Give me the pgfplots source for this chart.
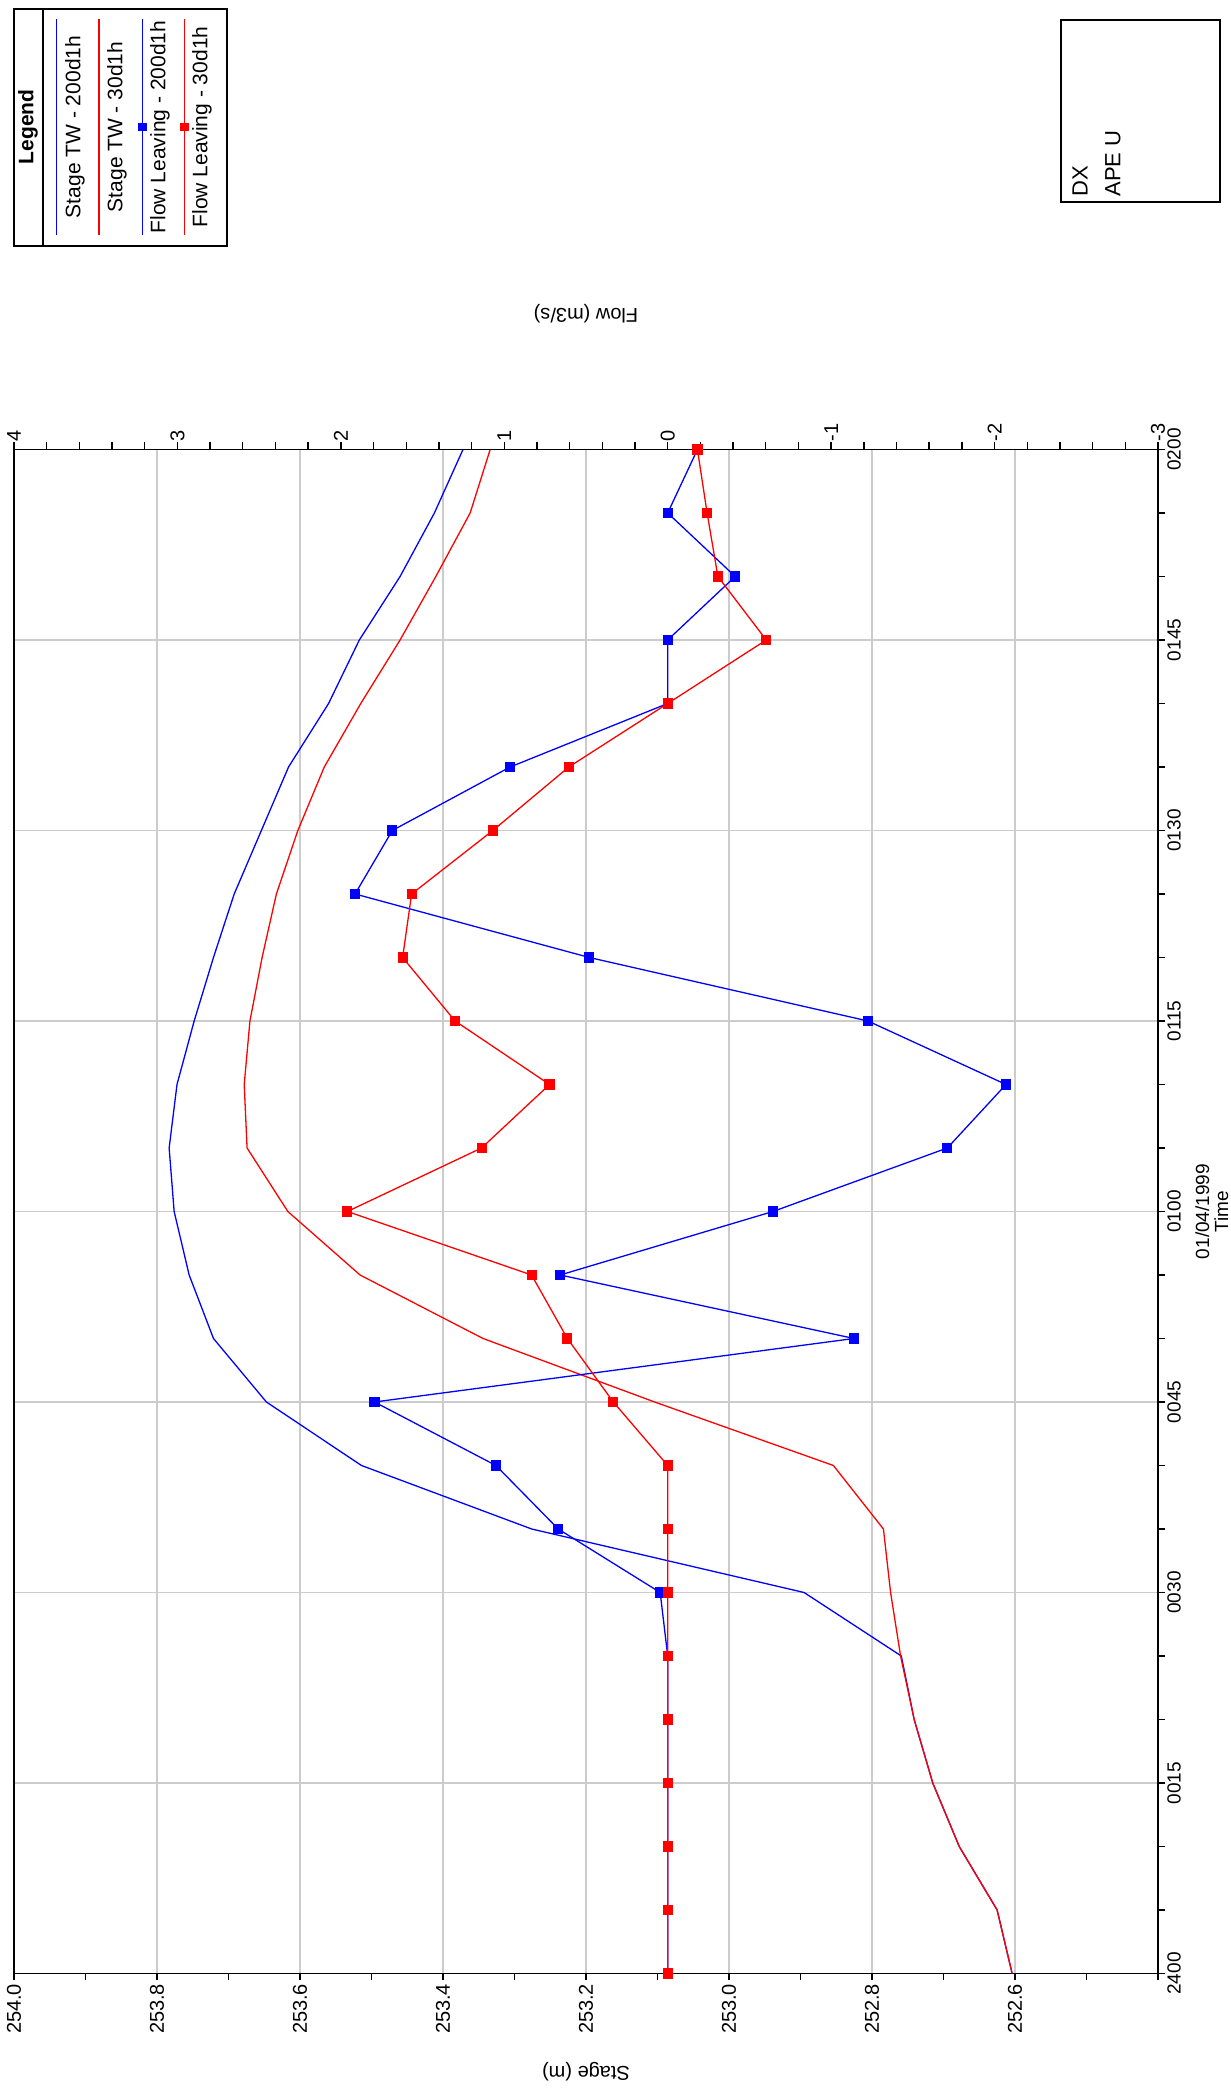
\documentclass[border=0pt]{standalone}
\usepackage{graphicx}
\usepackage{fontspec}
\setmainfont{Liberation Sans}
\usepackage{pgfplots}
\usepackage{pgfplotstable}
\pgfplotsset{compat=1.18}
\definecolor{gridgray}{RGB}{204,204,204}
\definecolor{pblue}{RGB}{0,0,255}
\definecolor{pred}{RGB}{255,0,0}

\pgfplotstableread{
t sb sr fb fr
0 252.604 252.604 0 0
5 252.625 252.625 0 0
10 252.678 252.678 0 0
15 252.715 252.715 0 0
20 252.741 252.741 0 0
25 252.759 252.760 0 0
30 252.895 252.774 0.046 0
35 253.276 252.784 0.670 0
40 253.514 252.854 1.051 0
45 253.647 253.104 1.794 0.333
50 253.721 253.344 -1.140 0.614
55 253.755 253.516 0.658 0.833
60 253.776 253.617 -0.644 1.960
65 253.783 253.674 -1.711 1.139
70 253.772 253.678 -2.070 0.723
75 253.748 253.670 -1.225 1.301
80 253.721 253.653 0.480 1.622
85 253.692 253.633 1.913 1.567
90 253.654 253.603 1.685 1.070
95 253.616 253.566 0.964 0.605
100 253.560 253.515 0 0
105 253.517 253.460 0 -0.603
110 253.460 253.410 -0.413 -0.307
115 253.412 253.362 0 -0.241
120 253.372 253.334 -0.182 -0.182
}\data

\begin{document}
\rotatebox{90}{%
\begin{tikzpicture}
\useasboundingbox (0,0) rectangle (1044.5pt,615.5pt);
\begin{axis}[
  at={(57.75pt,36.5pt)}, anchor=south west,
  scale only axis, width=762pt, height=572pt,
  xmin=0, xmax=120, ymin=252.4, ymax=254.0,
  xtick={0,15,...,120},
  xticklabels={2400,0015,0030,0045,0100,0115,0130,0145,0200},
  minor x tick num=2,
  ytick={252.4,252.6,252.8,253.0,253.2,253.4,253.6,253.8,254.0},
  yticklabels={,252.6,252.8,253.0,253.2,253.4,253.6,253.8,254.0},
  minor y tick num=1,
  xtick pos=lower, ytick pos=lower,
  y tick label style={font=\fontsize{10}{12}\selectfont, inner sep=1.5pt},
  x tick label style={font=\fontsize{9.5}{10}\selectfont, inner sep=1pt},
  tick align=outside,
  major tick length=3.5pt, minor tick length=3.5pt,
  every tick/.style={black, line width=0.7pt},
  grid=major, major grid style={gridgray, line width=0.7pt},
  axis line style={black, line width=0.8pt},
  clip=false,
  xlabel={01/04/1999\\Time},
  xlabel style={at={(axis description cs:0.5,-0.0323)}, anchor=north, align=center, font=\fontsize{9.5}{9.5}\selectfont, inner sep=0pt},
  ylabel={Stage (m)},
  ylabel style={at={(axis description cs:-0.0643,0.5)}, anchor=center, font=\fontsize{10}{12}\selectfont, inner sep=0pt},
]
\addplot[pblue, line width=0.65pt] table[x=t, y=sb] {\data};
\addplot[pred, line width=0.65pt] table[x=t, y=sr] {\data};
\end{axis}
\begin{axis}[
  at={(57.75pt,36.5pt)}, anchor=south west,
  scale only axis, width=762pt, height=572pt,
  xmin=0, xmax=120, ymin=-3, ymax=4,
  axis x line=none, axis y line*=right,
  ytick={-3,-2,-1,0,1,2,3,4},
  minor y tick num=4,
  /pgf/number format/assume math mode=true,
  y tick label style={font=\fontsize{10}{12}\selectfont, inner sep=0.5pt},
  tick align=outside,
  major tick length=3.5pt, minor tick length=3.5pt,
  every tick/.style={black, line width=0.7pt},
  axis line style={black, line width=0.8pt},
  clip=false,
  ylabel={Flow (m3/s)},
  ylabel style={at={(axis description cs:1.0889,0.5)}, anchor=center, font=\fontsize{10}{12}\selectfont, inner sep=0pt},
]
\addplot[pblue, line width=0.65pt, mark=square*, mark size=2.2pt, mark options={solid, fill=pblue, draw=pblue}] table[x=t, y=fb] {\data};
\addplot[pred, line width=0.65pt, mark=square*, mark size=2.2pt, mark options={solid, fill=pred, draw=pred}] table[x=t, y=fr] {\data};
\end{axis}
% legend
\draw[line width=0.6pt] (921.5pt,502pt) rectangle (1040pt,608.5pt);
\draw[line width=0.6pt] (921.5pt,594pt) -- (1040pt,594pt);
\node[font=\bfseries\fontsize{10.5}{12}\selectfont, inner sep=0pt] at (981pt,601.5pt) {Legend};
\draw[pblue, line width=0.6pt] (927pt,587.15pt) -- (1035pt,587.15pt);
\node[font=\fontsize{10.5}{12}\selectfont, inner sep=0pt] at (981pt,578pt) {Stage TW - 200d1h};
\draw[pred, line width=0.6pt] (927pt,566pt) -- (1035pt,566pt);
\node[font=\fontsize{10.5}{12}\selectfont, inner sep=0pt] at (981pt,557pt) {Stage TW - 30d1h};
\draw[pblue, line width=0.6pt] (927pt,544.35pt) -- (1035pt,544.35pt);
\node[fill=pblue, inner sep=0pt, minimum size=4.4pt] at (981pt,544.35pt) {};
\node[font=\fontsize{10.5}{12}\selectfont, inner sep=0pt] at (981pt,535.5pt) {Flow Leaving - 200d1h};
\draw[pred, line width=0.6pt] (927pt,523.35pt) -- (1035pt,523.35pt);
\node[fill=pred, inner sep=0pt, minimum size=4.4pt] at (981pt,523.35pt) {};
\node[font=\fontsize{10.5}{12}\selectfont, inner sep=0pt] at (981pt,514.5pt) {Flow Leaving - 30d1h};
% info box
\draw[line width=1pt] (943.5pt,5.5pt) rectangle (1034.5pt,85pt);
\node[anchor=west, inner sep=0pt, font=\fontsize{11}{12}\selectfont] at (946pt,75.5pt) {DX};
\node[anchor=west, inner sep=0pt, font=\fontsize{11}{12}\selectfont] at (946pt,59pt) {APE U};
\end{tikzpicture}%
}
\end{document}
